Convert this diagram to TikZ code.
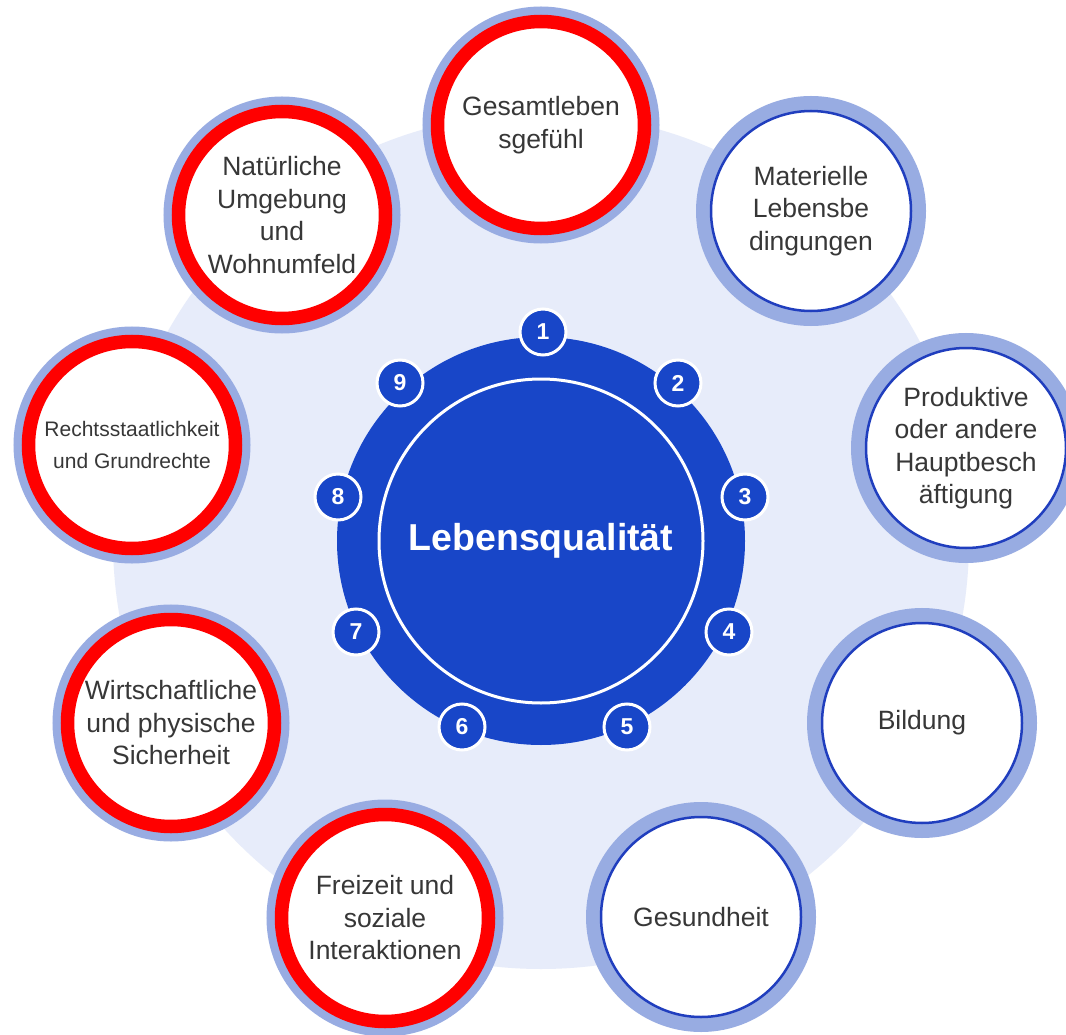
\documentclass[tikz,border=0pt]{standalone}
\usepackage{fontspec}
\setmainfont{Liberation Sans}
\definecolor{bgpale}{RGB}{231,236,250}
\definecolor{ringblue}{RGB}{152,172,226}
\definecolor{lineblue}{RGB}{32,62,190}
\definecolor{coreblue}{RGB}{24,70,200}
\definecolor{markred}{RGB}{255,0,0}
\definecolor{txtgrey}{RGB}{55,55,55}
\begin{document}
\begin{tikzpicture}[x=1pt,y=-1pt,
  topic/.style={circle, inner sep=0pt, minimum size=200pt, fill=white,
    draw=lineblue, line width=2.5pt,
    preaction={draw=ringblue, line width=30pt},
    align=center, text=txtgrey, font=\fontsize{26.5}{32.5}\selectfont},
  topicred/.style={topic, minimum size=207pt, draw=markred, line width=13.5pt,
    preaction={draw=ringblue, line width=24pt}},
  numdot/.style={circle, inner sep=0pt, minimum size=46pt, fill=coreblue,
    draw=white, line width=3pt, text=white,
    font=\bfseries\fontsize{23}{25}\selectfont},
  coredisc/.style={circle, inner sep=0pt, minimum size=408pt, fill=coreblue},
  coreinner/.style={circle, inner sep=0pt, minimum size=324pt, draw=white,
    line width=3pt, text=white, font=\bfseries\fontsize{37.5}{40}\selectfont}
]
\useasboundingbox (0,0) rectangle (1066,1035);
\fill[white] (0,0) rectangle (1066,1035);
\fill[bgpale] (541,541) circle (428pt);

% outer topics
\node[topicred] (t1) at (541,125) {Gesamtleben\\sgefühl};
\node[topic]    (t2) at (811,211) {Materielle\\Lebensbe\\dingungen};
\node[topic]    (t3) at (966,448) {Produktive\\oder andere\\Hauptbesch\\äftigung};
\node[topic]    (t4) at (922,723) {Bildung};
\node[topic]    (t5) at (701,917) {Gesundheit};
\node[topicred] (t6) at (385,918) {Freizeit und\\soziale\\Interaktionen};
\node[topicred] (t7) at (171,723) {Wirtschaftliche\\und physische\\Sicherheit};
\node[topicred, font=\fontsize{21}{32}\selectfont] (t8) at (132,445) {Rechtsstaatlichkeit\\und Grundrechte};
\node[topicred] (t9) at (282,215) {Natürliche\\Umgebung\\und\\Wohnumfeld};

% core
\node[coredisc] (core) at (541,541) {};
\node[coreinner] (title) at (541,541) {Lebensqualität};

% numbers
\node[numdot] (k1) at (543,332) {1};
\node[numdot] (k2) at (678,383) {2};
\node[numdot] (k3) at (745,497) {3};
\node[numdot] (k4) at (729,632) {4};
\node[numdot] (k5) at (627,727) {5};
\node[numdot] (k6) at (462,727) {6};
\node[numdot] (k7) at (356,632) {7};
\node[numdot] (k8) at (338,497) {8};
\node[numdot] (k9) at (400,383) {9};
\end{tikzpicture}
\end{document}
